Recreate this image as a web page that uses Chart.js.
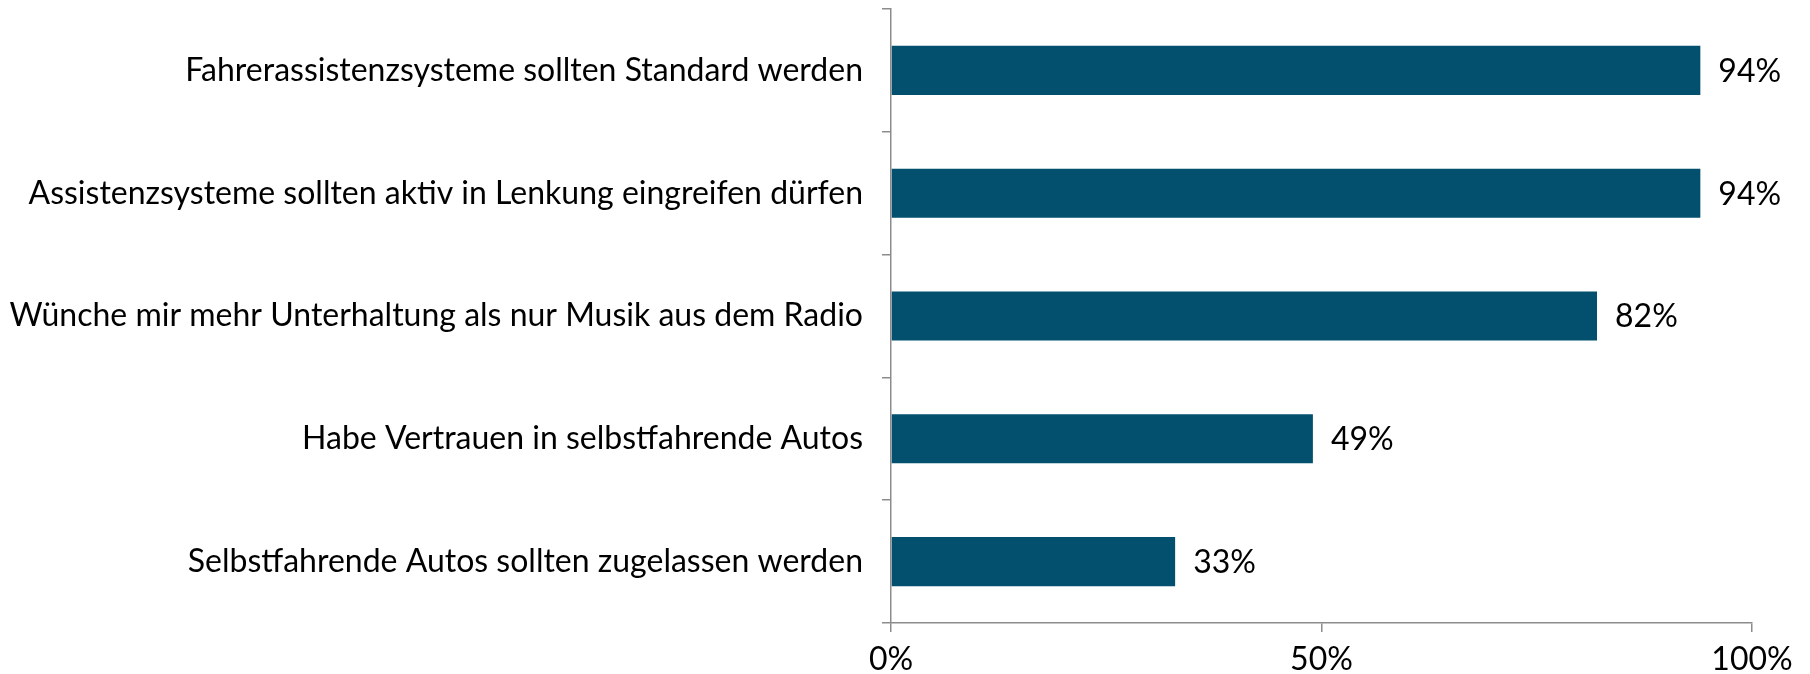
<!DOCTYPE html>
<html>
<head>
<meta charset="utf-8">
<script src="https://cdn.jsdelivr.net/npm/chart.js@4.4.1/dist/chart.umd.min.js"></script>
<style>
  html, body { margin: 0; padding: 0; background: #fff; }
  #wrap { width: 1810px; height: 674px; }
</style>
</head>
<body>
<div id="wrap"><canvas id="c"></canvas></div>
<script>
// Kategorien und Werte (in %)
const categories = [
    'Fahrerassistenzsysteme sollten Standard werden',
    'Assistenzsysteme sollten aktiv in Lenkung eingreifen dürfen',
    'Wünche mir mehr Unterhaltung als nur Musik aus dem Radio',
    'Habe Vertrauen in selbstfahrende Autos',
    'Selbstfahrende Autos sollten zugelassen werden'
];
const values = [94, 94, 82, 49, 33];
const xTicks = [0, 50, 100];

const barColor = '#02506E';
const axisColor = '#8c8c8c';
const fontFamily = 'Lato, "Open Sans", sans-serif';

// Plugin simple pour écrire les valeurs au bout des barres
const valueLabels = {
    id: 'valueLabels',
    afterDatasetsDraw(chart) {
        const ctx = chart.ctx;
        const meta = chart.getDatasetMeta(0);
        ctx.save();
        ctx.font = '32px ' + fontFamily;
        ctx.fillStyle = '#000';
        ctx.textAlign = 'left';
        ctx.textBaseline = 'middle';
        meta.data.forEach((bar, i) => {
            ctx.fillText(values[i] + '%', bar.x + 18, bar.y + 1);
        });
        ctx.restore();
    }
};

new Chart(document.getElementById('c'), {
    type: 'bar',
    data: {
        labels: categories,
        datasets: [{
            data: values,
            backgroundColor: barColor,
            borderWidth: 0,
            categoryPercentage: 1,
            barPercentage: 0.4
        }]
    },
    options: {
        indexAxis: 'y',
        responsive: true,
        maintainAspectRatio: false,
        animation: false,
        layout: { padding: { top: 9, right: 58, left: 0, bottom: 0 } },
        plugins: {
            legend: { display: false },
            tooltip: { enabled: false }
        },
        scales: {
            x: {
                min: 0,
                max: 100,
                afterBuildTicks(scale) {
                    scale.ticks = xTicks.map(v => ({ value: v }));
                },
                afterFit(scale) {
                    scale.height = 51;
                    scale.paddingLeft = 0;
                    scale.paddingRight = 0;
                },
                border: { color: axisColor, width: 1.5 },
                grid: {
                    drawOnChartArea: false,
                    drawTicks: true,
                    tickLength: 9,
                    color: axisColor,
                    lineWidth: 1.5
                },
                ticks: {
                    color: '#000',
                    padding: 8,
                    maxRotation: 0,
                    font: { family: fontFamily, size: 32 },
                    callback: v => v + '%'
                }
            },
            y: {
                afterFit(scale) {
                    scale.width = 891;
                    scale.paddingTop = 0;
                    scale.paddingBottom = 0;
                },
                border: { color: axisColor, width: 1.5 },
                grid: {
                    offset: true,
                    drawOnChartArea: false,
                    drawTicks: true,
                    tickLength: 9,
                    color: axisColor,
                    lineWidth: 1.5
                },
                ticks: {
                    color: '#000',
                    padding: 19,
                    font: { family: fontFamily, size: 32 }
                }
            }
        }
    },
    plugins: [valueLabels]
});
</script>
</body>
</html>
